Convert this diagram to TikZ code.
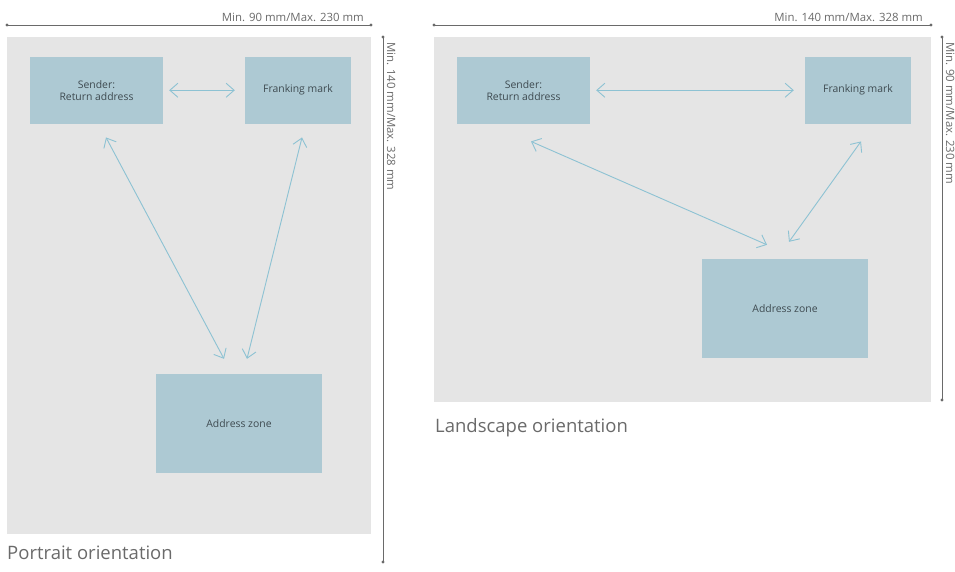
\documentclass[tikz,border=0pt]{standalone}
\usepackage{fontspec}
\setmainfont{Open Sans}
\usetikzlibrary{arrows.meta}
\definecolor{panelgray}{HTML}{E5E5E5}
\definecolor{boxblue}{HTML}{ADC9D3}
\definecolor{arrowblue}{HTML}{8DC2D3}
\definecolor{dimgray}{HTML}{6A6A6A}
\definecolor{boxtext}{HTML}{3E4A50}
\definecolor{captext}{HTML}{6A6A6A}
\tikzset{
  panel/.style={fill=panelgray, draw=none},
  zone/.style={fill=boxblue, draw=none, inner sep=0pt, align=center,
    text=boxtext, font=\fontsize{10.4}{12}\selectfont},
  arr/.style={draw=arrowblue, line width=0.9pt,
    {Straight Barb[length=8pt,width=14pt]}-{Straight Barb[length=8pt,width=14pt]}},
  dimline/.style={draw=dimgray, line width=0.8pt},
  dimdot/.style={fill=dimgray},
  dimlabel/.style={text=dimgray, inner sep=0pt, font=\fontsize{11.4}{13}\selectfont},
  caption/.style={text=captext, inner sep=0pt, font=\fontsize{18.5}{21}\selectfont}
}
\begin{document}
\begin{tikzpicture}[x=1pt,y=-1pt]
\useasboundingbox (0,0) rectangle (955,571);

% ---------- Portrait ----------
\fill[panel] (7,37) rectangle (371,534);
\coordinate (pt1) at (7,25);
\coordinate (pt2) at (371,25);
\draw[dimline] (pt1) -- (pt2);
\fill[dimdot] (pt1) circle (1.6pt) (pt2) circle (1.6pt);
\node[dimlabel, anchor=base east] (ptl) at (364,21) {Min. 90 mm/Max. 230 mm};
\coordinate (pv1) at (383,37);
\coordinate (pv2) at (383,562);
\draw[dimline] (pv1) -- (pv2);
\fill[dimdot] (pv1) circle (1.6pt) (pv2) circle (1.6pt);
\node[dimlabel, anchor=base west, rotate=-90] (pvl) at (387,42) {Min. 140 mm/Max. 328 mm};

\node[zone, minimum width=133pt, minimum height=67pt] (ps) at (96.5,90.25) {Sender:\\Return address};
\node[zone, minimum width=106pt, minimum height=67pt] (pf) at (298,90.25) {Franking mark};
\node[zone, minimum width=166pt, minimum height=99pt] (pa) at (239,423.5) {Address zone};

\draw[arr] ([xshift=6pt]ps.east) -- ([xshift=-10pt]pf.west);
\draw[arr] ([shift={(9.5,13.5)}]ps.south) -- ([shift={(-15,-15)}]pa.north);
\draw[arr] ([shift={(4,13.5)}]pf.south) -- ([shift={(8,-15)}]pa.north);

\node[caption, anchor=base west] (pcap) at (7,559) {Portrait orientation};

% ---------- Landscape ----------
\fill[panel] (434,37) rectangle (931,402);
\coordinate (lt1) at (434,25);
\coordinate (lt2) at (931,25);
\draw[dimline] (lt1) -- (lt2);
\fill[dimdot] (lt1) circle (1.6pt) (lt2) circle (1.6pt);
\node[dimlabel, anchor=base east] (ltl) at (923,21) {Min. 140 mm/Max. 328 mm};
\coordinate (lv1) at (942,37);
\coordinate (lv2) at (942,400);
\draw[dimline] (lv1) -- (lv2);
\fill[dimdot] (lv1) circle (1.6pt) (lv2) circle (1.6pt);
\node[dimlabel, anchor=base west, rotate=-90] (lvl) at (946,42) {Min. 90 mm/Max. 230 mm};

\node[zone, minimum width=133pt, minimum height=67pt] (ls) at (523.5,90.25) {Sender:\\Return address};
\node[zone, minimum width=106pt, minimum height=67pt] (lf) at (858,90.25) {Franking mark};
\node[zone, minimum width=166pt, minimum height=99pt] (la) at (785,308.5) {Address zone};

\draw[arr] ([xshift=6pt]ls.east) -- ([xshift=-11pt]lf.west);
\draw[arr] ([shift={(7.5,17.5)}]ls.south) -- ([shift={(-18,-14)}]la.north);
\draw[arr] ([shift={(3,17.5)}]lf.south) -- ([shift={(4,-17)}]la.north);

\node[caption, anchor=base west] (lcap) at (435,432) {Landscape orientation};
\end{tikzpicture}
\end{document}
